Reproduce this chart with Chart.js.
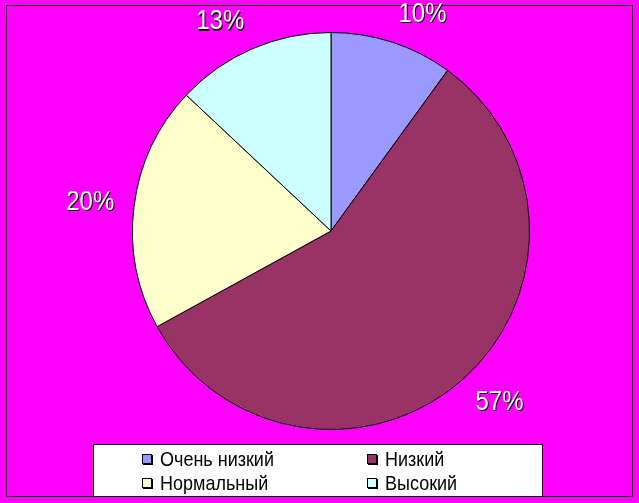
<!DOCTYPE html>
<html>
<head>
<meta charset="utf-8">
<script src="https://cdn.jsdelivr.net/npm/chart.js@4/dist/chart.umd.min.js"></script>
<style>
    body { margin: 0; background: #ff00ff; }
    #wrap { position: relative; width: 639px; height: 503px; overflow: hidden; }
    #frame { position: absolute; left: 6px; top: 5px; width: 627px; height: 492px;
             border: 1px solid #000; box-sizing: border-box; }
    #legendBox { position: absolute; left: 93px; top: 444px; width: 450px; height: 53px;
                 border: 1px solid #000; box-sizing: border-box; background: #fff; }
    #legend { position: absolute; left: 142px; top: 447px; display: grid;
              grid-template-columns: 225px 160px; grid-auto-rows: 24px;
              font-family: "Liberation Sans", Arial, sans-serif; font-size: 18px; color: #000; }
    .item { display: flex; align-items: center; }
    .item span.txt { display: inline-block; transform: scaleY(1.1); }
    .swatch { width: 10px; height: 10px; box-sizing: border-box; border: 1px solid #000;
              box-shadow: 1px 1px 0 #000; margin-right: 8px; }
    canvas { position: absolute; left: 0; top: 0; }
</style>
</head>
<body>
<div id="wrap">
    <div id="frame"></div>
    <div id="legendBox"></div>
    <canvas id="pieChart" width="639" height="503"></canvas>
    <div id="legend"></div>
</div>
<script>
// Data
const categories = ['Очень низкий', 'Низкий', 'Нормальный', 'Высокий'];
const shares = [10, 57, 20, 13];
const sliceColors = ['#9999ff', '#993366', '#ffffcc', '#ccffff'];

// Percent labels outside the slices, white with a black shadow
const outsideLabels = {
    id: 'outsideLabels',
    afterDatasetsDraw(chart) {
        const ctx = chart.ctx;
        const meta = chart.getDatasetMeta(0);
        ctx.save();
        ctx.font = '24px "Liberation Sans", Arial, sans-serif';
        ctx.textAlign = 'center';
        ctx.textBaseline = 'middle';
        meta.data.forEach((arc, i) => {
            const mid = (arc.startAngle + arc.endAngle) / 2;
            const r = arc.outerRadius + 20;
            const text = shares[i] + '%';
            const w = ctx.measureText(text).width;
            const h = 19;
            const cos = Math.cos(mid), sin = Math.sin(mid);
            // push the text box away from the pie, sideways by half its width
            const x = arc.x + cos * r + Math.sign(cos) * w / 2;
            const y = arc.y + sin * r + sin * h / 2;
            ctx.save();
            ctx.translate(x, y);
            ctx.scale(1, 1.15);
            ctx.fillStyle = '#000';
            ctx.fillText(text, 1, 1);
            ctx.fillStyle = '#fff';
            ctx.fillText(text, 0, 0);
            ctx.restore();
        });
        ctx.restore();
    }
};

const pieChart = new Chart(document.getElementById('pieChart'), {
    type: 'pie',
    data: {
        labels: categories,
        datasets: [{
            data: shares,
            backgroundColor: sliceColors,
            borderColor: '#000',
            borderWidth: 1
        }]
    },
    options: {
        responsive: false,
        animation: false,
        layout: {
            padding: { left: 132, top: 32, right: 109, bottom: 73 }
        },
        plugins: {
            legend: { display: false },
            tooltip: { enabled: false }
        }
    },
    plugins: [outsideLabels]
});

// HTML legend built from the chart data
const legendEl = document.getElementById('legend');
pieChart.data.labels.forEach((label, i) => {
    const item = document.createElement('div');
    item.className = 'item';
    const sw = document.createElement('span');
    sw.className = 'swatch';
    sw.style.background = pieChart.data.datasets[0].backgroundColor[i];
    const txt = document.createElement('span');
    txt.className = 'txt';
    txt.textContent = label;
    item.appendChild(sw);
    item.appendChild(txt);
    legendEl.appendChild(item);
});
</script>
</body>
</html>
